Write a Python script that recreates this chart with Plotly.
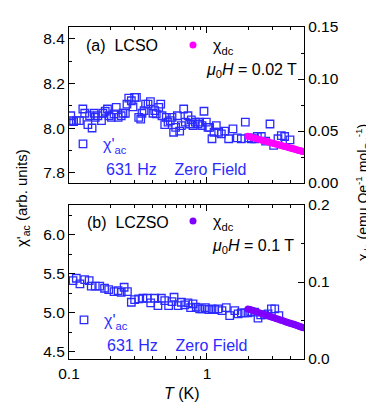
import plotly.graph_objects as go

# (a) LCSO, chi'_ac at 631 Hz
t_ac_a = [0.103, 0.103, 0.108, 0.113, 0.119, 0.126, 0.130, 0.137, 0.141, 0.147,
          0.152, 0.155, 0.162, 0.172, 0.176, 0.183, 0.190, 0.195, 0.203, 0.212,
          0.220, 0.227, 0.239, 0.246, 0.256, 0.263, 0.271, 0.283, 0.291, 0.299,
          0.308, 0.320, 0.331, 0.338, 0.350, 0.359, 0.374, 0.389, 0.406, 0.418,
          0.429, 0.447, 0.462, 0.472, 0.494, 0.507, 0.522, 0.542, 0.558, 0.573,
          0.593, 0.610, 0.634, 0.652, 0.678, 0.697, 0.728, 0.749, 0.770, 0.792,
          0.823, 0.861, 0.885, 0.920, 0.951, 0.989, 1.017, 1.045, 1.087, 1.124,
          1.168, 1.215, 1.270, 1.343, 1.436, 1.543, 1.659, 1.773, 1.896, 2.004,
          2.096, 2.216, 2.317, 2.476, 2.661, 2.861, 3.041, 3.269, 3.456, 3.654,
          3.995]
chi_ac_a = [8.056, 8.034, 8.030, 8.034, 8.034, 8.086, 8.067, 8.016, 8.056, 8.001,
            8.067, 8.049, 8.056, 8.034, 8.067, 8.076, 8.086, 8.056, 8.049, 8.064,
            8.093, 8.049, 8.056, 8.067, 8.067, 8.108, 8.135, 8.123, 8.096, 8.138,
            8.138, 8.049, 8.041, 8.067, 8.079, 8.108, 8.108, 8.119, 8.067, 8.079,
            8.064, 8.093, 8.108, 8.056, 8.016, 8.049, 8.027, 8.034, 8.049, 7.982,
            8.004, 8.056, 7.987, 8.012, 8.086, 8.027, 8.056, 8.019, 8.037, 8.012,
            8.027, 8.019, 8.027, 8.012, 8.076, 8.027, 8.004, 8.004, 7.953, 7.982,
            8.012, 7.982, 7.975, 7.987, 7.953, 7.997, 7.957, 7.953, 8.027, 7.957,
            7.953, 7.953, 7.963, 7.963, 7.942, 8.019, 7.923, 7.953, 7.967, 7.963,
            7.948]

# (a) LCSO, chi_dc at 0.02 T
t_dc = [1.98, 2.05, 2.1, 2.2, 2.3, 2.4, 2.5, 2.6, 2.7, 2.8, 2.9, 3.0, 3.1, 3.2,
        3.3, 3.4, 3.5, 3.6, 3.7, 3.8, 3.9, 4.0, 4.1, 4.2, 4.3, 4.4, 4.5, 4.6,
        4.7, 4.8, 4.9, 5.0]
chi_dc_a = [0.0450, 0.0445, 0.0441, 0.0433, 0.0426, 0.0419, 0.0412, 0.0406,
            0.0400, 0.0394, 0.0388, 0.0383, 0.0378, 0.0373, 0.0368, 0.0363,
            0.0358, 0.0354, 0.0350, 0.0345, 0.0341, 0.0337, 0.0333, 0.0329,
            0.0326, 0.0322, 0.0318, 0.0315, 0.0312, 0.0308, 0.0305, 0.0302]

# (b) LCZSO, chi'_ac at 631 Hz
t_ac_b = [0.107, 0.113, 0.120, 0.130, 0.140, 0.145, 0.155, 0.167, 0.181, 0.194,
          0.212, 0.227, 0.239, 0.251, 0.265, 0.283, 0.299, 0.320, 0.343, 0.369,
          0.391, 0.418, 0.441, 0.467, 0.494, 0.527, 0.558, 0.577, 0.618, 0.652,
          0.689, 0.728, 0.761, 0.792, 0.836, 0.885, 0.920, 0.974, 1.031, 1.087,
          1.137, 1.202, 1.284, 1.380, 1.461, 1.590, 1.681, 1.773, 1.874, 1.981,
          2.071, 2.216, 2.342, 2.449, 2.618, 2.769, 2.928, 3.097, 3.317]
chi_ac_b = [5.413, 5.443, 5.371, 5.426, 5.413, 5.341, 5.341, 5.341, 5.315, 5.298,
            5.273, 5.285, 5.264, 5.328, 5.273, 5.136, 5.170, 5.179, 5.187, 5.187,
            5.128, 5.187, 5.094, 5.187, 5.158, 5.094, 5.145, 5.200, 5.094, 5.136,
            5.102, 5.128, 5.068, 5.115, 5.072, 5.051, 5.051, 5.068, 5.043, 5.051,
            5.043, 5.051, 5.030, 5.068, 4.966, 5.030, 4.987, 5.000, 5.000, 5.000,
            5.017, 5.009, 4.932, 4.974, 4.974, 4.987, 5.051, 5.051, 4.966]

# (b) LCZSO, chi_dc at 0.1 T
chi_dc_b = [0.0650, 0.0642, 0.0636, 0.0624, 0.0612, 0.0600, 0.0589, 0.0578,
            0.0568, 0.0558, 0.0549, 0.0540, 0.0531, 0.0523, 0.0515, 0.0507,
            0.0499, 0.0492, 0.0485, 0.0478, 0.0471, 0.0465, 0.0459, 0.0453,
            0.0447, 0.0441, 0.0435, 0.0429, 0.0423, 0.0417, 0.0411, 0.0405]

BLUE = '#2b2bff'
MAGENTA = '#ff00ff'
PURPLE = '#7f00ff'
FONT = 'Liberation Sans, Arial, sans-serif'

# plot area in pixels: x 61..296, top panel y 19..175, bottom panel y 197..351
W, H = 374, 410
ML, MR, MT, MB = 61, 78, 19, 59
pw, ph = W - ML - MR, H - MT - MB


def px(x):
    return (x - ML) / pw


def py(y):
    return (H - MB - y) / ph


sq = dict(symbol='square-open', size=7.5, color=BLUE, line=dict(width=1.3, color=BLUE))

fig = go.Figure()
fig.add_trace(go.Scatter(x=t_dc, y=chi_dc_a, mode='markers', xaxis='x', yaxis='y3',
                         marker=dict(symbol='circle', size=7, color=MAGENTA),
                         name='χ<sub>dc</sub>', legend='legend2'))
fig.add_trace(go.Scatter(x=t_ac_a, y=chi_ac_a, mode='markers', xaxis='x', yaxis='y',
                         marker=sq, name="χ'<sub>ac</sub>", legend='legend5'))
fig.add_trace(go.Scatter(x=t_dc, y=chi_dc_b, mode='markers', xaxis='x2', yaxis='y4',
                         marker=dict(symbol='circle', size=7, color=PURPLE),
                         name='χ<sub>dc</sub>', legend='legend4'))
fig.add_trace(go.Scatter(x=t_ac_b, y=chi_ac_b, mode='markers', xaxis='x2', yaxis='y2',
                         marker=sq, name="χ'<sub>ac</sub>", legend='legend3'))

ax = dict(showline=True, linecolor='black', linewidth=1.2, ticks='inside', ticklen=6,
          tickwidth=1, tickcolor='black', showgrid=False, zeroline=False, automargin=False,
          tickfont=dict(size=15.5, color='black'))
xa = dict(ax, type='log', range=[-1, 0.703], dtick=1, mirror='ticks',
          minor=dict(ticks='inside', ticklen=3, dtick='D1', tickcolor='black', showgrid=False))

top = [py(175), 1]
bot = [0, py(197)]

fig.update_layout(
    template='none', showlegend=True,
    width=W, height=H, margin=dict(l=ML, r=MR, t=MT, b=MB, autoexpand=False),
    paper_bgcolor='white', plot_bgcolor='white',
    font=dict(family=FONT, size=16, color='black'),
    xaxis=dict(xa, anchor='y', domain=[0, 1], showticklabels=False),
    xaxis2=dict(xa, anchor='y2', domain=[0, 1]),
    yaxis=dict(ax, domain=top, anchor='x', range=[7.755, 8.453], dtick=0.2, tickformat='.1f',
               minor=dict(ticks='inside', ticklen=3, dtick=0.1, tickcolor='black')),
    yaxis3=dict(ax, overlaying='y', side='right', anchor='x', range=[0, 0.15], dtick=0.05,
                tickformat='.2f', minor=dict(ticks='inside', ticklen=3, dtick=0.025, tickcolor='black')),
    yaxis2=dict(ax, domain=bot, anchor='x2', range=[4.41, 6.38], dtick=0.5, tickformat='.1f',
                minor=dict(ticks='inside', ticklen=3, dtick=0.25, tickcolor='black')),
    yaxis4=dict(ax, overlaying='y2', side='right', anchor='x2', range=[0, 0.2], dtick=0.1,
                tickformat='.1f', minor=dict(ticks='inside', ticklen=3, dtick=0.05, tickcolor='black')),
)

leg = dict(bgcolor='rgba(0,0,0,0)', borderwidth=0, xanchor='left', yanchor='middle',
           itemwidth=30, tracegroupgap=0, visible=True)
fig.update_layout(
    legend5=dict(leg, x=px(55), y=py(136), font=dict(size=16, color=BLUE)),
    legend2=dict(leg, x=px(165), y=py(37), font=dict(size=16, color='black')),
    legend3=dict(leg, x=px(56), y=py(312), font=dict(size=16, color=BLUE)),
    legend4=dict(leg, x=px(165), y=py(213), font=dict(size=16, color='black')),
)

notes = [
    dict(text='(a)  LCSO', x=px(76), y=py(37), xanchor='left', font=dict(color='black')),
    dict(text='<i>μ</i><sub>0</sub><i>H</i> = 0.02 T', x=px(291), y=py(63), xanchor='right',
         font=dict(color='black')),
    dict(text='631 Hz    Zero Field', x=px(96), y=py(161), xanchor='left', font=dict(color=BLUE)),
    dict(text='(b)  LCZSO', x=px(77), y=py(214), xanchor='left', font=dict(color='black')),
    dict(text='<i>μ</i><sub>0</sub><i>H</i> = 0.1 T', x=px(288), y=py(238), xanchor='right',
         font=dict(color='black')),
    dict(text='631 Hz    Zero Field', x=px(97), y=py(337), xanchor='left', font=dict(color=BLUE)),
    dict(text="χ'<sub>ac</sub> (arb. units)", x=px(14), y=py(190), textangle=-90,
         xanchor='center', font=dict(size=15, color='black')),
    dict(text='χ<sub>dc</sub> (emu Oe<sup>-1</sup> mol<sub>Cu</sub><sup>-1</sup>)', x=px(355),
         y=py(185), textangle=-90, xanchor='center', font=dict(size=14, color='black')),
    dict(text='<i>T</i> (K)', x=px(174), y=py(385), xanchor='center', font=dict(color='black')),
]
for n in notes:
    fig.add_annotation(xref='paper', yref='paper', showarrow=False, yanchor='middle',
                       font_size=n['font'].get('size', 16), font_family=FONT,
                       **{k: v for k, v in n.items() if k != 'font'},
                       font_color=n['font']['color'])

fig.write_html('out.html')
